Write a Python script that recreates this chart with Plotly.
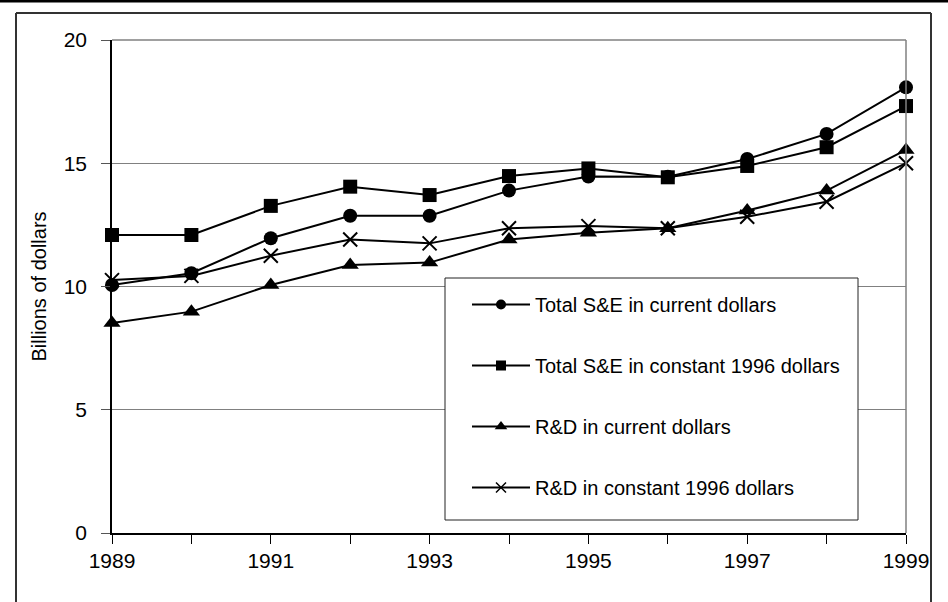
import plotly.graph_objects as go

years = [1989, 1990, 1991, 1992, 1993, 1994, 1995, 1996, 1997, 1998, 1999]
total_current = [10.06, 10.54, 11.96, 12.87, 12.87, 13.89, 14.46, 14.45, 15.17, 16.19, 18.08]
total_constant = [12.09, 12.09, 13.27, 14.05, 13.71, 14.48, 14.79, 14.43, 14.89, 15.65, 17.32]
rd_current = [8.52, 8.98, 10.06, 10.87, 10.97, 11.91, 12.18, 12.36, 13.08, 13.89, 15.54]
rd_constant = [10.26, 10.43, 11.25, 11.91, 11.75, 12.36, 12.45, 12.36, 12.83, 13.44, 15.00]

series_names = ["Total S&E in current dollars", "Total S&E in constant 1996 dollars",
                "R&D in current dollars", "R&D in constant 1996 dollars"]
series_values = [total_current, total_constant, rd_current, rd_constant]
symbols = ["circle", "square", "triangle-up", "x-thin-open"]
plot_sizes = [14, 14, 15, 14]
legend_sizes = [10, 10, 11, 10]

tick_vals = years
tick_text = [str(y) if (y - 1989) % 2 == 0 else "" for y in years]

FONT = "Liberation Sans Narrow, Arial Narrow, Liberation Sans, Arial, sans-serif"

fig = go.Figure()
for name, vals, sym, sz in zip(series_names, series_values, symbols, plot_sizes):
    fig.add_trace(go.Scatter(
        x=years, y=vals, mode="lines+markers", name=name, showlegend=False,
        line=dict(color="black", width=2),
        marker=dict(symbol=sym, size=sz, color="black", line=dict(color="black", width=2 if "x" in sym else 0)),
        cliponaxis=False,
    ))
for i, (name, sym, sz) in enumerate(zip(series_names, symbols, legend_sizes)):
    fig.add_trace(go.Scatter(
        x=[None], y=[None], mode="lines+markers", name=name, legendgroup=f"g{i}",
        line=dict(color="black", width=2),
        marker=dict(symbol=sym, size=sz, color="black", line=dict(color="black", width=1.5 if "x" in sym else 0)),
    ))

# paper coordinate helpers (plot area x:112-906, y:40-533 px)
def px_x(p):
    return (p - 112) / 794.0

def px_y(p):
    return (533 - p) / 493.0

shapes = [
    # legend box
    dict(type="rect", xref="paper", yref="paper", x0=px_x(445), x1=px_x(858), y0=px_y(520), y1=px_y(278),
         fillcolor="white", line=dict(color="#222222", width=1), layer="above"),
    # plot right border and top border
    dict(type="line", xref="paper", yref="paper", x0=1, x1=1, y0=0, y1=1, line=dict(color="#808080", width=1.5)),
    dict(type="line", xref="paper", yref="paper", x0=0, x1=1, y0=1, y1=1, line=dict(color="#808080", width=1.5)),
    # outer frame
    dict(type="line", xref="paper", yref="paper", x0=px_x(16), x1=px_x(16), y0=px_y(610), y1=px_y(13), line=dict(color="#333333", width=2)),
    dict(type="line", xref="paper", yref="paper", x0=px_x(16), x1=px_x(931), y0=px_y(13), y1=px_y(13), line=dict(color="#333333", width=2)),
    dict(type="line", xref="paper", yref="paper", x0=px_x(931), x1=px_x(931), y0=px_y(610), y1=px_y(13), line=dict(color="#333333", width=2)),
    # top thick black rule
    dict(type="line", xref="paper", yref="paper", x0=px_x(-5), x1=px_x(960), y0=px_y(1), y1=px_y(1), line=dict(color="black", width=3)),
]

fig.update_layout(
    width=948, height=602,
    margin=dict(l=112, r=42, t=40, b=69),
    paper_bgcolor="white", plot_bgcolor="white",
    font=dict(family=FONT, size=20, color="black"),
    shapes=shapes,
    showlegend=True,
    legend=dict(
        x=px_x(467), y=px_y(285), xanchor="left", yanchor="top",
        bgcolor="rgba(0,0,0,0)", borderwidth=0,
        font=dict(family=FONT, size=20, color="black"),
        itemwidth=58, tracegroupgap=32,
    ),
    xaxis=dict(
        range=[1989, 1999], tickmode="array", tickvals=tick_vals, ticktext=tick_text,
        showgrid=False, zeroline=False, showline=True, linecolor="black", linewidth=1.5,
        ticks="outside", ticklen=9, tickwidth=1, tickcolor="black",
        tickfont=dict(family=FONT, size=21, color="black"),
        ticklabelstandoff=-1,
    ),
    yaxis=dict(
        range=[0, 20], tickvals=[0, 5, 10, 15, 20],
        showgrid=True, gridcolor="#808080", gridwidth=1,
        zeroline=False, showline=True, linecolor="black", linewidth=1.5,
        ticks="outside", ticklen=9, tickwidth=1, tickcolor="#555555",
        tickfont=dict(family=FONT, size=21, color="black"),
        ticklabelstandoff=10,
    ),
    annotations=[dict(
        text="Billions of dollars", xref="paper", yref="paper",
        x=px_x(38), y=0.5, xanchor="center", yanchor="middle",
        textangle=-90, showarrow=False, font=dict(family=FONT, size=20, color="black"),
    )],
)

fig.write_html("out.html", config={"displayModeBar": False},
               post_script="document.body.style.margin='0';document.body.style.overflow='hidden';")
